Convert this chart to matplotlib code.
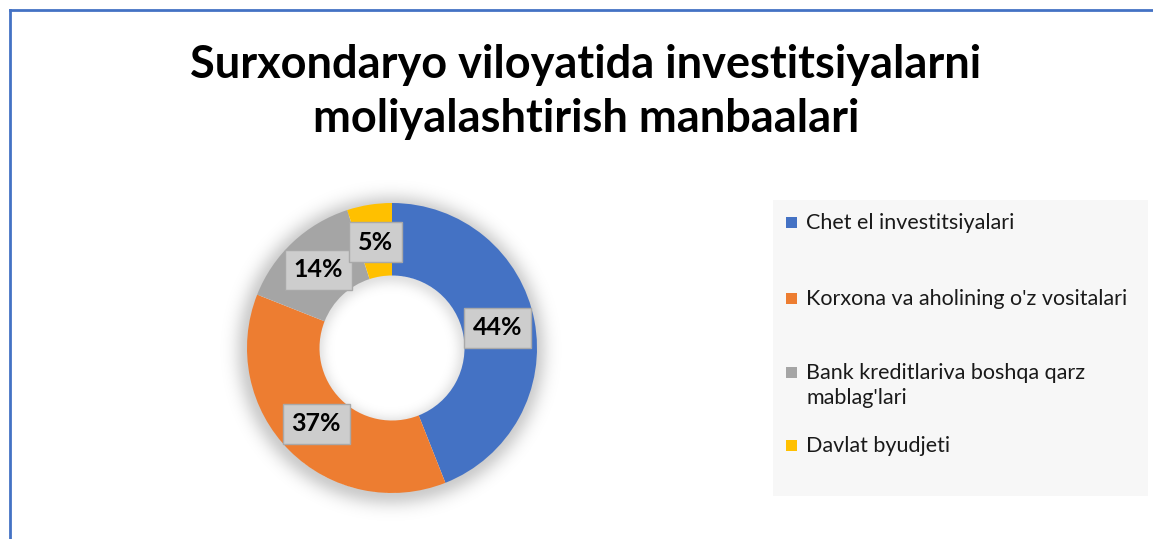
import matplotlib.pyplot as plt
import numpy as np
from matplotlib.patches import Rectangle

LABELS = ["Chet el investitsiyalari",
          "Korxona va aholining o'z vositalari",
          "Bank kreditlariva boshqa qarz\nmablag'lari",
          "Davlat byudjeti"]
SHARES = [44, 37, 14, 5]
COLORS = ["#4472C4", "#ED7D31", "#A5A5A5", "#FFC000"]
TITLE = "Surxondaryo viloyatida investitsiyalarni\nmoliyalashtirish manbaalari"

W, H = 1153, 539
plt.rcParams["font.family"] = ["Lato", "DejaVu Sans"]


def px(x, y):
    # pixel position (top-left origin) to figure fraction
    return x / W, 1 - y / H


fig = plt.figure(figsize=(W / 100, H / 100), dpi=100)
fig.patch.set_facecolor("white")

# chart frame: only top and left edges are visible in the crop
fig.add_artist(plt.Line2D([10 / W, 1], [1 - 9.5 / H] * 2, color="#4472C4", lw=2))
fig.add_artist(plt.Line2D([10 / W] * 2, [0, 1 - 9.5 / H], color="#4472C4", lw=2))

fig.text(*px(586, 92), TITLE, ha="center", va="center", fontsize=32.5,
         fontweight="bold", linespacing=1.38)

# donut axes: radius 1 -> 145 px, centred at (392, 348)
cx, cy, R = 392, 348, 145
half = 1.25 * R
ax = fig.add_axes([(cx - half) / W, (H - cy - half) / H, 2 * half / W, 2 * half / H])
ax.set_xlim(-1.25, 1.25)
ax.set_ylim(-1.25, 1.25)
ax.set_aspect("equal")
ax.axis("off")

# soft shadow round the ring
g = np.linspace(-1.25, 1.25, 400)
xx, yy = np.meshgrid(g, g)
rr = np.hypot(xx + 0.01, yy + 0.02)
shade = np.where(rr > 0.98, np.exp(-((rr - 0.98) / 0.1) ** 2), 0)
shade += np.where(rr < 0.52, 0.6 * np.exp(-((0.52 - rr) / 0.07) ** 2), 0)
rgba = np.zeros((400, 400, 4))
rgba[..., 3] = 0.2 * shade
ax.imshow(rgba, extent=(-1.25, 1.25, -1.25, 1.25), origin="lower", zorder=0)

wedges, _ = ax.pie(SHARES, colors=COLORS, startangle=90, counterclock=False,
                   radius=1, wedgeprops=dict(width=0.5, edgecolor="none"))
for w in wedges:
    w.set_zorder(2)

for w, share in zip(wedges, SHARES):
    mid = np.deg2rad((w.theta1 + w.theta2) / 2)
    r = 0.74
    ax.text(r * np.cos(mid), r * np.sin(mid), f"{share}%", ha="center", va="center",
            fontsize=18, fontweight="bold", color="black", zorder=5,
            bbox=dict(boxstyle="square,pad=0.35", facecolor="#cdcdcd",
                      edgecolor="#a9a9a9", linewidth=1))

# legend panel
fig.add_artist(Rectangle(px(773, 496), 375 / W, 296 / H, transform=fig.transFigure,
                         facecolor="#f7f7f7", edgecolor="none", zorder=0))
legend_y = [222, 298, 372, 445]
for label, color, y in zip(LABELS, COLORS, legend_y):
    fig.add_artist(Rectangle(px(786, y + 6), 11 / W, 11 / H, transform=fig.transFigure,
                             facecolor=color, edgecolor="none"))
    fig.text(*px(806, y - 9), label, ha="left", va="top", fontsize=15.5,
             color="#1a1a1a", linespacing=1.32)

fig.savefig("out.png", dpi=100, facecolor="white")
